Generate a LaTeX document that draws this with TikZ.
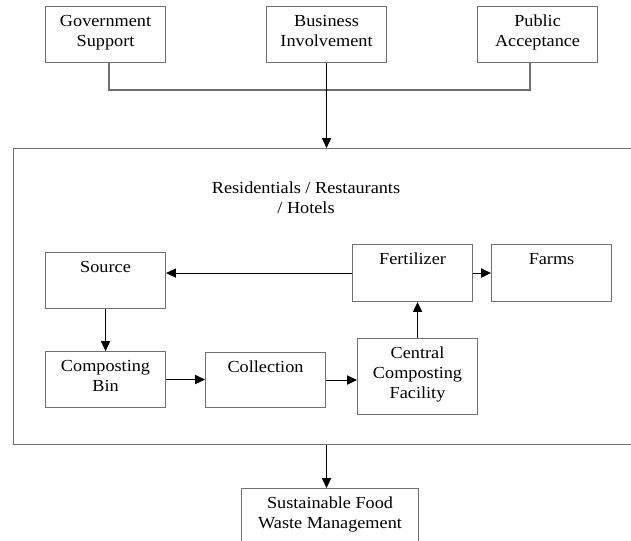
\documentclass[tikz,border=0pt]{standalone}
\usepackage{fontspec}
\setmainfont{Liberation Serif}[FakeStretch=1.08]
\usepackage{tikz}
\usetikzlibrary{arrows.meta}

\definecolor{edgegray}{RGB}{112,112,112}

\begin{document}
\begin{tikzpicture}[x=0.025cm, y=-0.025cm, >={Triangle[length=7pt,width=6.5pt]},
  every node/.style={font=\fontsize{12}{14.2}\selectfont},
  box/.style={draw=edgegray, line width=0.75pt, anchor=north west, inner sep=0pt,
    minimum width=3cm, minimum height=1.4cm},
  lbl/.style={anchor=north, align=center, inner sep=0pt, yshift=-6.3pt},
  flow/.style={->, line width=0.75pt},
  link/.style={draw=edgegray, line width=0.75pt}]
  \useasboundingbox (0,0) rectangle (631,540);
  \clip (0,0) rectangle (631,540);

  % drivers
  \node[box, label={[lbl]north:Government\\Support}] (gov) at (45,6) {};
  \node[box, label={[lbl]north:Business\\Involvement}] (busn) at (266,6) {};
  \node[box, label={[lbl]north:Public\\Acceptance}] (pub) at (477,6) {};
  \coordinate (join) at (326,90);
  \draw[link] (109,0 |- gov.south) |- (join) -| (530,0 |- pub.south);

  % composting loop
  \node[box, minimum width=16.5cm, minimum height=7.4cm] (site) at (13,148) {};
  \node[align=center, anchor=north, inner sep=0pt] (title) at (306,181.5)
    {Residentials / Restaurants\\/ Hotels};
  \node[box, label={[lbl]north:Source}] (src) at (45,252) {};
  \node[box, minimum height=1.425cm, label={[lbl]north:Fertilizer}] (fert) at (352,244) {};
  \node[box, minimum height=1.425cm, label={[lbl]north:Farms}] (farm) at (491,244) {};
  \node[box, label={[lbl]north:Composting\\Bin}] (bin) at (45,351) {};
  \node[box, minimum height=1.375cm, label={[lbl]north:Collection}] (coll) at (205,352) {};
  \node[box, minimum height=1.9cm, label={[lbl]north:Central\\Composting\\Facility}] (cent) at (357,338) {};

  \node[box, minimum width=4.425cm, minimum height=1.5cm,
    label={[lbl]north:Sustainable Food\\Waste Management}] (sust) at (241,488) {};

  \draw[flow] (busn.south) -- (busn.south |- site.north);
  \draw[flow] (fert.west) -- (fert.west -| src.east);
  \draw[flow] (fert.east) -- (farm.west);
  \draw[flow] (src.south) -- (bin.north);
  \draw[flow] (bin.east) -- (bin.east -| coll.west);
  \draw[flow] (coll.east) -- (coll.east -| cent.west);
  \draw[flow] (cent.north) -- (cent.north |- fert.south);
  \draw[flow] (busn.south |- site.south) -- (busn.south |- sust.north);
\end{tikzpicture}
\end{document}
